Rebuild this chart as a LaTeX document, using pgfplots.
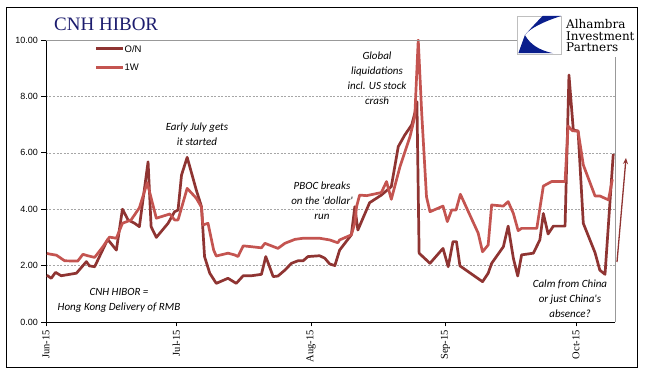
\documentclass[border=0pt]{standalone}
\usepackage{fontspec}
\usepackage{pgfplots}
\pgfplotsset{compat=1.18}
\usetikzlibrary{arrows.meta}
\setmainfont{Liberation Serif}
\newfontfamily\arialf{Liberation Sans}
\newfontfamily\calib{Carlito}
\newfontfamily\dserif{DejaVu Serif}
\definecolor{onc}{RGB}{143,52,50}
\definecolor{owc}{RGB}{196,84,80}
\definecolor{navy}{RGB}{28,28,110}
\definecolor{logob}{RGB}{10,30,140}
\begin{document}
\begin{tikzpicture}[x=1pt,y=1pt]
\fill[white] (-46,-57) rectangle (599,322);
\draw[black, line width=0.8pt] (-40,-45) rectangle (591,315);
\begin{axis}[
  at={(0,0)}, anchor=south west,
  scale only axis, width=569pt, height=282pt,
  xmin=0, xmax=131, ymin=0, ymax=10,
  axis x line*=bottom, axis y line*=left,
  axis line style={black, line width=0.8pt},
  tick align=outside, major tick length=4.5pt,
  tick style={black, line width=0.6pt},
  xtick={0,30,61,92,122},
  xticklabels={Jun-15,Jul-15,Aug-15,Sep-15,Oct-15},
  xticklabel style={rotate=90, anchor=east, font=\fontsize{10.5}{12}\selectfont},
  ytick={0,2,4,6,8,10},
  yticklabel style={font=\fontsize{9}{10}\arialf},
  /pgf/number format/assume math mode=true,
  yticklabel={\pgfmathprintnumber[fixed,fixed zerofill,precision=2]{\tick}},
  ymajorgrids,
  grid style={gray!70, line width=0.5pt, dash pattern=on 2pt off 1.5pt},
]
\addplot[onc, line width=2.7pt, line join=round] coordinates {
(0.2,1.66) (1.2,1.55) (2.2,1.76) (3.5,1.64) (7.0,1.73) (9.3,2.14) (10.0,1.99)
(11.2,1.96) (14.2,2.93) (16.2,2.55) (17.6,4.00) (18.9,3.62) (20.4,3.50) (21.5,3.38)
(23.5,5.68) (24.2,3.38) (25.4,3.00) (28.1,3.50) (29.6,3.91) (30.4,3.97) (31.2,5.21)
(32.5,5.84) (34.6,4.68) (35.8,4.09) (36.5,2.32) (37.7,1.73) (39.2,1.37) (41.9,1.55)
(43.8,1.37) (45.4,1.64) (47.3,1.64) (49.6,1.69) (50.6,2.32) (52.3,1.61) (53.4,1.63)
(55.0,1.84) (56.5,2.08) (58.0,2.17) (59.2,2.17) (60.3,2.32) (63.0,2.35) (64.2,2.26)
(65.3,2.06) (66.5,2.00) (67.6,2.55) (70.3,3.09) (71.1,4.09) (71.8,3.26) (74.5,4.23)
(77.2,4.50) (79.5,4.80) (81.1,6.22) (82.6,6.63) (84.2,6.99) (85.1,7.52) (85.4,7.81)
(85.9,2.44) (88.4,2.08) (91.4,2.61) (92.6,1.96) (93.7,2.85) (94.5,2.85) (95.3,1.99)
(100.5,1.43) (101.8,1.73) (102.6,2.08) (105.3,2.67) (106.4,3.40) (107.6,2.26) (108.6,1.63)
(109.5,2.38) (112.2,2.44) (113.7,2.91) (114.5,3.85) (115.6,3.12) (116.8,3.40) (119.5,3.40)
(120.4,8.76) (121.4,6.81) (122.5,6.77) (123.7,3.50) (126.4,2.46) (127.5,1.84) (128.7,1.69)
(130.6,5.96)
};
\addplot[owc, line width=2.7pt, line join=round] coordinates {
(0.2,2.43) (1.2,2.40) (2.4,2.37) (4.3,2.17) (7.3,2.16) (8.5,2.40) (9.6,2.35)
(11.2,2.29) (13.1,2.67) (14.6,3.01) (16.2,2.97) (17.6,3.50) (19.6,3.62) (21.5,4.05)
(23.3,4.94) (25.4,3.68) (28.5,3.83) (29.6,3.62) (30.4,3.62) (32.5,4.74) (34.6,4.39)
(35.8,4.07) (36.1,3.44) (37.3,3.50) (38.6,2.55) (39.2,2.34) (41.9,2.44) (43.4,2.38)
(44.2,2.32) (45.4,2.70) (47.3,2.67) (49.6,2.63) (50.4,2.79) (51.9,2.70) (53.4,2.61)
(55.0,2.79) (57.3,2.93) (59.2,2.97) (63.0,2.97) (65.3,2.91) (67.2,2.81) (67.6,2.91)
(70.3,3.09) (71.1,3.50) (71.5,4.09) (72.2,4.50) (73.8,4.48) (77.2,4.59) (78.4,4.98)
(79.5,4.35) (81.5,5.51) (83.8,6.57) (84.9,7.28) (85.7,10.0) (86.5,7.40) (87.6,4.44)
(88.4,3.91) (91.4,4.11) (92.4,3.56) (93.4,3.97) (94.4,3.97) (95.4,4.53) (99.5,3.15)
(100.5,2.49) (101.8,2.73) (102.6,4.15) (105.3,4.11) (106.4,4.27) (107.6,3.85) (108.7,3.24)
(109.5,3.32) (113.0,3.32) (114.5,4.82) (116.4,4.98) (119.5,4.98) (120.2,6.95) (121.2,6.78)
(122.5,6.77) (123.7,5.57) (126.4,4.47) (127.5,4.47) (129.5,4.33) (130.4,5.06)
};
\end{axis}
% plot area top and right border
\draw[gray!80, line width=0.6pt] (0,282) -- (569,282) -- (569,0);
% legend
\draw[onc, line width=2.7pt] (50,273.3) -- (77,273.3);
\node[anchor=west, inner sep=1pt, font=\fontsize{9.5}{11}\arialf] at (77.5,273.3) {O/N};
\draw[owc, line width=2.7pt] (50,254.3) -- (77,254.3);
\node[anchor=west, inner sep=1pt, font=\fontsize{9.5}{11}\arialf] at (77.5,254.3) {1W};
% title
\node[anchor=base west, inner sep=0pt, text=navy, font=\fontsize{19}{22}\selectfont] at (8,291.3) {CNH HIBOR};
% logo
\fill[white] (516,265) rectangle (590,308);
\filldraw[fill=white, draw=gray!50, line width=0.5pt] (471,268) rectangle (515,306);
\begin{scope}[shift={(471,268)}, x=44pt, y=38pt]
\fill[logob] (0.58,1) -- (1,1) .. controls (0.6,0.85) and (0.3,0.68) .. (0.18,0.5) .. controls (0.35,0.72) .. (0.58,1) -- cycle;
\fill[logob] (0.18,0.5) -- (0.03,0.02) -- (0.82,0.02) .. controls (0.5,0.1) and (0.3,0.25) .. (0.18,0.5) -- cycle;
\end{scope}
\node[anchor=base west, inner sep=0pt, font=\fontsize{12}{12}\dserif] at (520,293) {Alhambra};
\node[anchor=base west, inner sep=0pt, font=\fontsize{12}{12}\dserif] at (520,281.5) {Investment};
\node[anchor=base west, inner sep=0pt, font=\fontsize{12}{12}\dserif] at (520,270) {Partners};
% annotations
\node[align=center, font=\fontsize{11}{15}\calib\itshape] at (73,22) {CNH HIBOR =\\Hong Kong Delivery of RMB};
\node[align=center, font=\fontsize{11}{15}\calib\itshape] at (151,188) {Early July gets\\it started};
\node[align=center, font=\fontsize{11}{15}\calib\itshape] at (276,121) {PBOC breaks\\on the 'dollar'\\run};
\node[align=center, font=\fontsize{11}{15}\calib\itshape] at (331,244) {Global\\liquidations\\incl. US stock\\crash};
\node[align=center, font=\fontsize{11}{15}\calib\itshape] at (524,23) {Calm from China\\or just China's\\absence?};
% arrow
\draw[onc, line width=1.3pt, -{Stealth[length=6pt,width=5pt]}] (571,60) -- (580,164);
\end{tikzpicture}
\end{document}
